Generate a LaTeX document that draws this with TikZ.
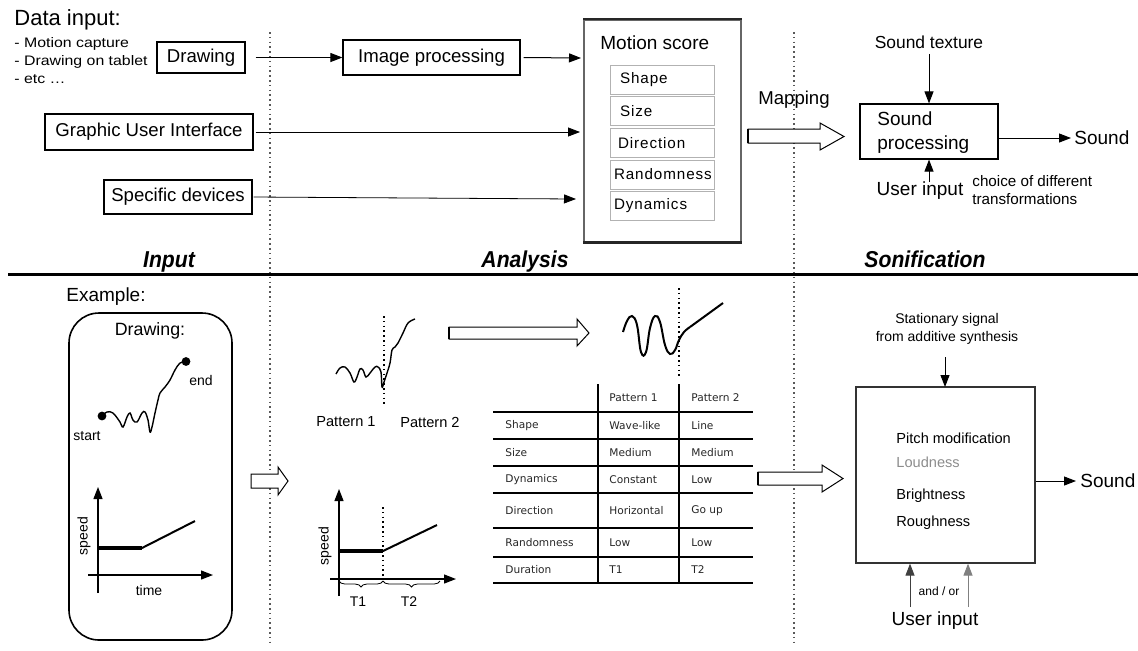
\documentclass[tikz,border=0pt]{standalone}
\usepackage{fontspec}
\setmainfont{Liberation Sans}
\newfontfamily\tabfont{DejaVu Sans}
\newfontfamily\headfont[FakeStretch=0.92]{Liberation Sans}
\newfontfamily\spacedfont[LetterSpace=6]{Liberation Sans}
\newfontfamily\widefont[FakeStretch=1.15]{Liberation Sans}
\usetikzlibrary{arrows.meta,decorations.pathreplacing,calc}
\begin{document}
\begin{tikzpicture}[x=0.5pt,y=-0.5pt,
  lbl/.style={inner sep=0pt, font=\fontsize{9.3}{11}\selectfont},
  box/.style={draw, line width=0.6pt, inner sep=0pt, font=\fontsize{9.3}{11}\selectfont},
  itembox/.style={draw=black!30, line width=0.5pt, inner sep=0pt, minimum width=52pt, minimum height=14.5pt, font=\spacedfont\fontsize{7.6}{10}\selectfont, align=left, text width=48pt},
  arr/.style={-{Triangle[length=6pt,width=4.5pt]}, line width=0.5pt},
  dotline/.style={black!65, line width=0.8pt, dash pattern=on 0.8pt off 1.6pt},
  hollow/.style={draw, line width=0.5pt, fill=white},
  head/.style={inner sep=0pt, font=\headfont\bfseries\itshape\fontsize{11.5}{13}\selectfont},
  tab/.style={inner sep=0pt, anchor=west, font=\tabfont\fontsize{5.3}{6}\selectfont, text=black!85},
  small/.style={inner sep=0pt, font=\fontsize{7}{8.5}\selectfont},
  inbox/.style={inner sep=0pt, anchor=west, font=\fontsize{7.3}{8.5}\selectfont},
  tline/.style={line width=1pt},
]
\useasboundingbox (0,0) rectangle (1138,650);

% ---------------- dividers
\draw[dotline] (270,32) -- (270,645);
\draw[dotline] (794,32) -- (794,645);
\draw[line width=1.5pt] (8,274) -- (1138,274);

% ---------------- top: input
\node[inner sep=0pt, anchor=west, font=\fontsize{11}{13}\selectfont] (datain) at (14,20) {Data input:};
\node[inner sep=0pt, anchor=north west, align=left, font=\widefont\fontsize{6.9}{9}\selectfont] (list) at (14,37) {- Motion capture\\- Drawing on tablet\\- etc \dots};
\node[box, minimum width=44pt, minimum height=15.5pt] (drawing) at (201,57.5) {Drawing};
\node[box, minimum width=104pt, minimum height=18pt] (gui) at (149,132) {Graphic User Interface};
\node[box, minimum width=74pt, minimum height=17pt] (dev) at (178,197) {Specific devices};
\node[box, minimum width=88.5pt, minimum height=17.5pt] (img) at (431.5,57.5) {Image processing};

% motion score
\node[draw=black!60, line width=0.6pt, minimum width=78.5pt, minimum height=111pt, inner sep=0pt] (ms) at (662.5,131) {};
\draw[line width=1.2pt, black!85] (ms.south west) -- (ms.south east);
\draw[line width=1pt, black!85] (ms.north west) -- (ms.north east);
\node[lbl, anchor=west, font=\fontsize{9.5}{11}\selectfont] (mstitle) at (600,43) {Motion score};
\node[itembox] (i1) at (662,79.5) {\hspace{3pt}Shape};
\node[itembox] (i2) at (662,111) {\hspace{3pt}Size};
\node[itembox] (i3) at (662,143) {\hspace{2pt}Direction};
\node[itembox] (i4) at (662,174.5) {Randomness};
\node[itembox] (i5) at (662,206) {Dynamics};

\coordinate (msin1) at (581,58);
\coordinate (msin2) at (580,132);
\coordinate (msin3) at (576,199);
\draw[arr] ($(drawing.east)+(10,0)$) -- (img.west);
\draw[arr] ($(img.east)+(3,0)$) -- (msin1);
\draw[arr, line width=0.4pt] ($(gui.east)+(2,0)$) -- (msin2);
\draw[arr, line width=0.4pt] ($(dev.east)+(1,0)$) -- (msin3);

% mapping
\node[lbl] (mapping) at (794,100) {Mapping};
\draw[hollow] (748,129) -- (820,129) -- (820,123) -- (844,136.5) -- (820,150) -- (820,143) -- (748,143) -- cycle;
\draw[line width=1.2pt] (748,129) -- (748,143);

% sound processing
\node[box, minimum width=69pt, minimum height=27.5pt] (sp) at (929,131.5) {};
\node[lbl, anchor=west, align=left, font=\fontsize{9.5}{12}\selectfont] (sptxt) at (877,133) {Sound\\processing};
\node[lbl, font=\fontsize{8.7}{10}\selectfont] (stex) at (929,42) {Sound texture};
\draw[arr] ($(stex.south)+(0,5)$) -- (sp.north);
\node[lbl, anchor=west, font=\fontsize{9.5}{11}\selectfont] (sound1) at (1074,138) {Sound};
\draw[arr] (sp.east |- sound1.west) -- ($(sound1.west)+(-3,0)$);
\node[lbl, font=\fontsize{9.5}{11}\selectfont] (uin1) at (920,191) {User input};
\draw[arr] (929,182) -- (sp.south);
\node[inner sep=0pt, anchor=north west, align=left, font=\fontsize{7.6}{9}\selectfont] (choice) at (972,175) {choice of different\\transformations};

% headers
\node[head] (hin) at (169,262) {Input};
\node[head] (han) at (525,262) {Analysis};
\node[head] (hso) at (925,259) {Sonification};

% ---------------- bottom: example
\node[inner sep=0pt, anchor=west, font=\fontsize{9.5}{11}\selectfont] (example) at (66,297) {Example:};
\node[draw, line width=0.8pt, rounded corners=15pt, minimum width=81.5pt, minimum height=163.5pt] (exbox) at (150.5,476.5) {};
\node[inner sep=0pt, font=\fontsize{8.9}{10}\selectfont] (drw) at (150,331) {Drawing:};
\draw[line width=0.7pt] plot[smooth, tension=0.6] coordinates {(102,416) (107,412) (113,413) (120,422) (123,427) (127,417) (130,413) (133,420) (137,422) (142,413) (145,412) (148,420) (150,432) (152,427) (155,413) (158,400) (160,393) (165,387) (170,380) (175,370) (180,363) (186,361.5)};
\fill (102,416) circle (2.2pt);
\fill (186,361.5) circle (2.2pt);
\node[small] (start) at (87,436) {start};
\node[small] (end) at (201,380) {end};
% graph 1
\draw[arr, line width=0.6pt] (98,593) -- (98,487);
\draw[arr, line width=0.6pt] (88,575) -- (213,575);
\draw[line width=1.6pt] (98,548) -- (142,548);
\draw[line width=1pt] (142,548) -- (195,521);
\node[small] (speed1) at (84,536) [rotate=90] {speed};
\node[small] (time1) at (149,590) {time};

% small hollow arrow
\draw[hollow] (251,474) -- (278,474) -- (278,467) -- (288,481) -- (278,495) -- (278,488) -- (251,488) -- cycle;

% pattern curve
\draw[line width=0.7pt] plot[smooth, tension=0.6] coordinates {(336,374) (340,368) (345,367) (350,373) (354,382) (357,377) (360,369) (363,370) (366,377) (370,373) (375,367) (378,367) (381,372) (382,387) (384,382) (387,373) (390,363) (392,350) (395,347) (398,343) (403,333) (408,323) (415,319)};
\draw[dotline, black] (384,316) -- (384,404);
\node[small, font=\fontsize{7.3}{9}\selectfont] (p1) at (346,422) {Pattern 1};
\node[small, font=\fontsize{7.3}{9}\selectfont] (p2) at (430,422) {Pattern 2};

% graph 2
\draw[arr, line width=0.6pt] (339,596) -- (339,489);
\draw[arr, line width=0.6pt] (330,579) -- (456,579);
\draw[line width=1.6pt] (339,551) -- (383,551);
\draw[line width=1pt] (383,551) -- (437,525);
\draw[dotline, black] (383,507) -- (383,579);
\draw[decorate, decoration={brace, amplitude=3pt, mirror}, line width=0.4pt] (339,581) -- (383,581);
\draw[decorate, decoration={brace, amplitude=3pt, mirror}, line width=0.4pt] (383,581) -- (440,581);
\node[small] (speed2) at (325,546) [rotate=90] {speed};
\node[small] (t1) at (358,602) {T1};
\node[small] (t2) at (409,602) {T2};

% long hollow arrow
\draw[hollow] (449,327) -- (577,327) -- (577,319) -- (589,333) -- (577,346) -- (577,339) -- (449,339) -- cycle;
\draw[line width=1.2pt] (449,327) -- (449,339);

% wave and line
\draw[line width=1pt] plot[smooth, tension=0.7] coordinates {(623,332) (627,321) (632,316) (637,325) (641,352) (646,352) (650,328) (655,316) (660,322) (665,345) (670,354) (675,350) (679,340) (684,332) (690,327)};
\draw[line width=1pt] (690,327) -- (723,303);
\draw[dotline, black] (679,288) -- (679,377);

% table
\draw[tline] (598,384) -- (598,583);
\draw[tline] (679,384) -- (679,583);
\foreach \yy in {412,439,466,493,528,557,583} \draw[tline] (493,\yy) -- (753,\yy);
\node[tab] (h1) at (609,398) {Pattern 1};
\node[tab] (h2) at (691,398) {Pattern 2};
\node[tab] (r1) at (505,426) {Shape};
\node[tab] (r1a) at (609,426) {Wave-like};
\node[tab] (r1b) at (691,426) {Line};
\node[tab] (r2) at (505,453) {Size};
\node[tab] (r2a) at (609,453) {Medium};
\node[tab] (r2b) at (691,453) {Medium};
\node[tab] (r3) at (505,480) {Dynamics};
\node[tab] (r3a) at (609,480) {Constant};
\node[tab] (r3b) at (691,480) {Low};
\node[tab] (r4) at (505,511) {Direction};
\node[tab] (r4a) at (609,511) {Horizontal};
\node[tab] (r4b) at (691,511) {Go up};
\node[tab] (r5) at (505,543) {Randomness};
\node[tab] (r5a) at (609,543) {Low};
\node[tab] (r5b) at (691,543) {Low};
\node[tab] (r6) at (505,570) {Duration};
\node[tab] (r6a) at (609,570) {T1};
\node[tab] (r6b) at (691,570) {T2};

% right hollow arrow
\draw[hollow] (758,472) -- (822,472) -- (822,465) -- (843,478.5) -- (822,492) -- (822,485) -- (758,485) -- cycle;
\draw[line width=1.2pt] (758,472) -- (758,485);

% sonification box
\node[draw=black!80, line width=0.6pt, minimum width=89.5pt, minimum height=88pt, inner sep=0pt] (sbox) at (945.5,475) {};
\node[inner sep=0pt, align=center, font=\fontsize{7}{9}\selectfont] (stat) at (947,329) {Stationary signal\\from additive synthesis};
\draw[arr] (945,357) -- (945,387);
\node[inbox] (pm) at (896,438) {Pitch modification};
\node[inbox, text=black!45] (loud) at (896,462) {Loudness};
\node[inbox] (bright) at (896,496) {Brightness};
\node[inbox] (rough) at (896,523) {Roughness};
\node[lbl, anchor=west, font=\fontsize{9.5}{11}\selectfont] (sound2) at (1080,481) {Sound};
\draw[arr] (sbox.east |- sound2.west) -- ($(sound2.west)+(-4,0)$);
\node[lbl, font=\fontsize{9.5}{11}\selectfont] (uin2) at (935,621) {User input};
\coordinate (ua) at (910,607);
\coordinate (ub) at (968,607);
\draw[arr, black!75] (ua) -- (ua |- sbox.south);
\draw[-{Triangle[length=6pt,width=4.5pt]}, line width=0.5pt, black!50] (ub) -- (ub |- sbox.south);
\node[inner sep=0pt, font=\fontsize{6}{7}\selectfont] (andor) at (939,591) {and / or};
\end{tikzpicture}
\end{document}
